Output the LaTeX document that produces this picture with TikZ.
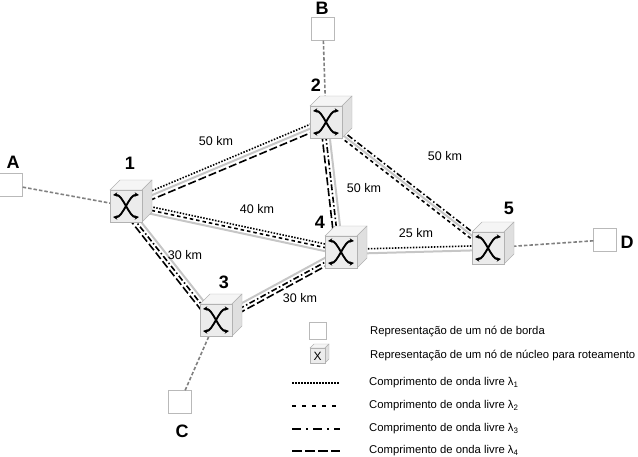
\documentclass[tikz,border=0pt]{standalone}
\usepackage{fontspec}
\setmainfont{Liberation Sans}
\usetikzlibrary{calc,arrows.meta}

\tikzset{
  borda/.style={draw=gray!55, fill=white, minimum size=23pt, inner sep=0pt},
  fibra/.style={draw=gray!45, line width=2pt},
  l1/.style={line width=1.6pt, dash pattern=on 1.5pt off 1.5pt},
  l2/.style={line width=1.6pt, dash pattern=on 3.5pt off 3pt},
  l3/.style={line width=1.6pt, dash pattern=on 6pt off 2.5pt on 1.5pt off 2.5pt},
  l4/.style={line width=1.6pt, dash pattern=on 8pt off 3pt},
  acesso/.style={draw=gray, line width=1.6pt, dash pattern=on 3.5pt off 2pt},
  seta/.style={line width=1.9pt, {Stealth[length=4.5pt,width=4.5pt]}-{Stealth[length=4.5pt,width=4.5pt]}},
  num/.style={font=\fontsize{18}{18}\selectfont\bfseries},
  dist/.style={font=\fontsize{12.5}{12.5}\selectfont},
  leg/.style={font=\fontsize{11.3}{11.3}\selectfont, anchor=west, inner sep=0pt}
}

% linha paralela ao enlace a--b, deslocada de d
\newcommand{\trecho}[4]{\draw[#1] ($(#2)!#4!90:(#3)$) -- ($(#3)!#4!-90:(#2)$);}

% cubo de nucleo centrado em #1
\newcommand{\cubo}[1]{%
  \filldraw[fill=gray!8, draw=gray!60] ($(#1)+(-16,-16)$) -- ($(#1)+(-6,-26)$) -- ($(#1)+(26,-26)$) -- ($(#1)+(16,-16)$) -- cycle;
  \filldraw[fill=gray!25, draw=gray!60] ($(#1)+(16,-16)$) -- ($(#1)+(26,-26)$) -- ($(#1)+(26,6)$) -- ($(#1)+(16,16)$) -- cycle;
  \filldraw[fill=gray!15, draw=gray!60] ($(#1)+(-16,-16)$) rectangle ($(#1)+(16,16)$);
  \draw[seta] ($(#1)+(-13,-11)$) .. controls ($(#1)+(-3,-12)$) and ($(#1)+(3,12)$) .. ($(#1)+(13,11)$);
  \draw[seta] ($(#1)+(13,-11)$) .. controls ($(#1)+(3,-12)$) and ($(#1)+(-3,12)$) .. ($(#1)+(-13,11)$);
}

\begin{document}
\begin{tikzpicture}[x=1pt, y=-1pt]
\useasboundingbox (0,0) rectangle (638,456);

\coordinate (n1) at (126,206);
\coordinate (n2) at (326,122);
\coordinate (n3) at (216,320);
\coordinate (n4) at (341,252);
\coordinate (n5) at (488,248);

\node[borda] (A) at (11,185) {};
\node[borda] (B) at (323,29) {};
\node[borda] (C) at (180,402) {};
\node[borda] (D) at (605,240) {};

\draw[acesso] (A) -- (n1);
\draw[acesso] (B) -- (n2);
\draw[acesso] (C) -- (n3);
\draw[acesso] (D) -- (n5);

% 1-2
\trecho{fibra}{n1}{n2}{0pt}
\trecho{l1}{n1}{n2}{4pt}
\trecho{l4}{n1}{n2}{-4pt}
% 1-4
\trecho{fibra}{n1}{n4}{-2.5pt}
\trecho{l2}{n1}{n4}{1pt}
\trecho{l1}{n1}{n4}{4.5pt}
% 1-3
\trecho{fibra}{n1}{n3}{2pt}
\trecho{l3}{n1}{n3}{-1.8pt}
\trecho{l4}{n1}{n3}{-5.5pt}
% 3-4
\trecho{fibra}{n3}{n4}{2.5pt}
\trecho{l3}{n3}{n4}{-1.3pt}
\trecho{l4}{n3}{n4}{-5pt}
% 2-4
\trecho{fibra}{n2}{n4}{2pt}
\trecho{l3}{n2}{n4}{-1.8pt}
\trecho{l4}{n2}{n4}{-5.5pt}
% 2-5
\trecho{fibra}{n2}{n5}{0pt}
\trecho{l3}{n2}{n5}{3pt}
\trecho{l2}{n2}{n5}{-3pt}
% 4-5
\trecho{fibra}{n4}{n5}{-2pt}
\trecho{l1}{n4}{n5}{2.5pt}

\cubo{n1}
\cubo{n2}
\cubo{n3}
\cubo{n4}
\cubo{n5}

\node[num] (t1) at (130,163) {1};
\node[num] (t2) at (316,85) {2};
\node[num] (t3) at (224,282) {3};
\node[num] (t4) at (320,222) {4};
\node[num] (t5) at (509,208) {5};
\node[num] (tA) at (13,162) {A};
\node[num] (tB) at (322,8) {B};
\node[num] (tC) at (182,431) {C};
\node[num] (tD) at (627,242) {D};

\node[dist] (d12) at (216,141) {50 km};
\node[dist] (d14) at (257,209) {40 km};
\node[dist] (d13) at (185,255) {30 km};
\node[dist] (d34) at (300,298) {30 km};
\node[dist] (d24) at (364,188) {50 km};
\node[dist] (d25) at (445,156) {50 km};
\node[dist] (d45) at (416,233) {25 km};

% legenda
\node[borda, minimum size=17pt] (lb) at (318,331) {};
\filldraw[fill=gray!8, draw=gray!60] (310,348) -- (314,344) -- (329,344) -- (325,348) -- cycle;
\filldraw[fill=gray!25, draw=gray!60] (325,348) -- (329,344) -- (329,359) -- (325,363) -- cycle;
\filldraw[fill=gray!15, draw=gray!60] (310,348) rectangle (325,363);
\node[font=\fontsize{12}{12}\selectfont, inner sep=0pt] (lc) at (317.5,356) {X};

\draw[l1] (292,383) -- (340,383);
\draw[l2, dash pattern=on 4pt off 6pt] (292,406) -- (340,406);
\draw[l3, dash pattern=on 9pt off 5pt on 2pt off 5pt] (292,429) -- (340,429);
\draw[l4, dash pattern=on 10pt off 3pt] (292,451) -- (340,451);

\node[leg] (e1) at (370,332) {Representação de um nó de borda};
\node[leg] (e2) at (370,356) {Representação de um nó de núcleo para roteamento};
\node[leg] (e3) at (369,383) {Comprimento de onda livre λ\textsubscript{1}};
\node[leg] (e4) at (369,406) {Comprimento de onda livre λ\textsubscript{2}};
\node[leg] (e5) at (369,429) {Comprimento de onda livre λ\textsubscript{3}};
\node[leg] (e6) at (369,451) {Comprimento de onda livre λ\textsubscript{4}};
\end{tikzpicture}
\end{document}
